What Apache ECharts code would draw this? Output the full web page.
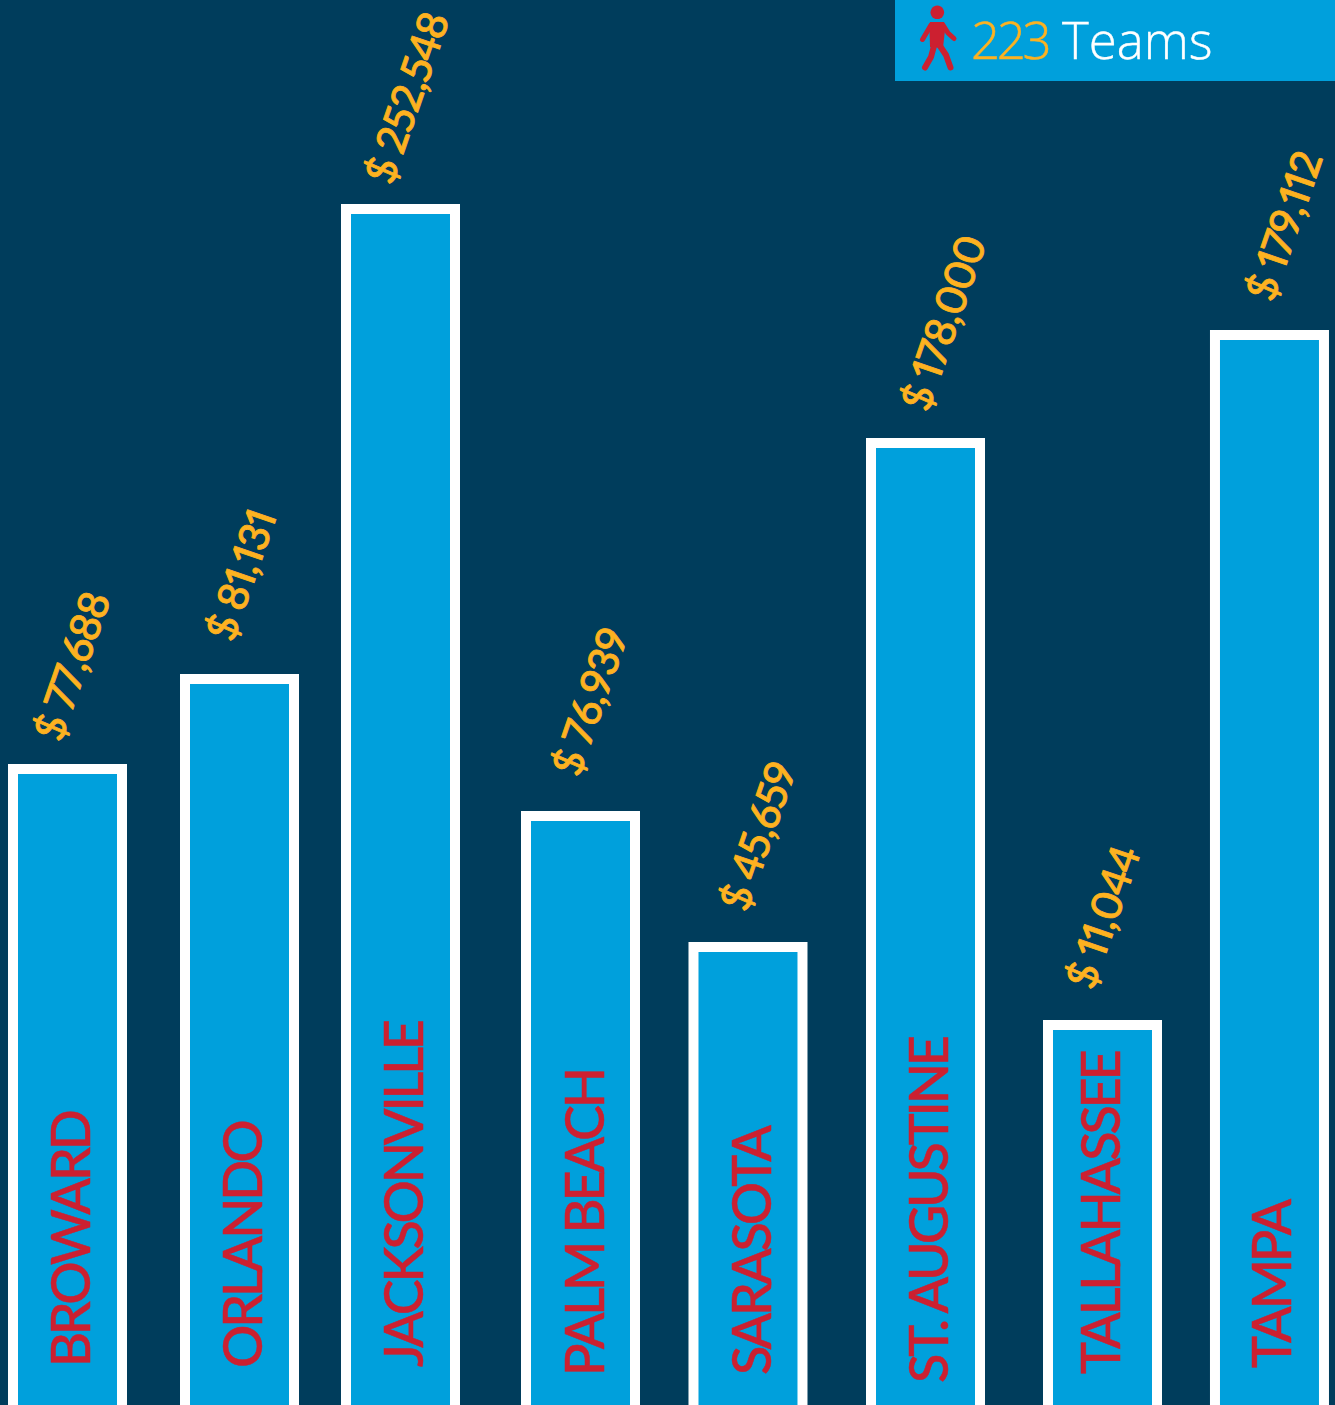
<!DOCTYPE html>
<html><head><meta charset="utf-8">
<style>html,body{margin:0;padding:0;background:#003d5c}#c{width:1335px;height:1405px}
#c text[style*="54px"]{letter-spacing:-3.2px;stroke:#cc2030;stroke-width:.5px}
#c text[style*="42px"]{letter-spacing:-1.2px;font-variant-numeric:proportional-nums;font-feature-settings:"pnum" 1;font-kerning:none;stroke:#fdb220;stroke-width:.8px}
#c text[fill="#fdb220"][style*="51px"]{letter-spacing:-3.3px;stroke:#fdb220;stroke-width:.5px}
#c text[fill="#fff"][style*="51px"]{stroke:#fff;stroke-width:.4px}
</style>
<script src="https://cdn.jsdelivr.net/npm/echarts@6/dist/echarts.min.js"></script>
</head><body><div id="c"></div>
<script>
const cities = ['BROWARD','ORLANDO','JACKSONVILLE','PALM BEACH','SARASOTA','ST. AUGUSTINE','TALLAHASSEE','TAMPA'];
const amounts = [77688,81131,252548,76939,45659,178000,11044,179112];
const barHeights = [661,751,1221,614,483,987,405,1095];
const slots = [0,1.0017,1.9393,2.9876,3.963,4.9968,6.0276,7];
const teamCount = 223;

const amountNudge = [[-21.5,-26],[-21.5,-36],[-23.5,-23],[-16.5,-38],[-16,-34],[-12.5,-30],[-24.5,-34],[-11.5,-32]];
const cityNudge = [[2,-58],[1.5,-57],[2.5,-58],[2.5,-49],[3,-50],[1.5,-42],[-3.5,-51],[1.5,-57]];
const AMOUNT_TILT = 71;

const NAVY='#003d5c',BLUE='#00a0dc',RED='#cc2030',GOLD='#fdb220';
const money = v => '$ ' + v.toLocaleString('en-US');
const toLocal = ([gx,gy],deg) => { const t=deg*Math.PI/180,c=Math.cos(t),s=Math.sin(t); return [gx*c-gy*s, gx*s+gy*c]; };

const chart = echarts.init(document.getElementById('c'),null,{renderer:'svg'});
const limb = (points,w) => ({type:'polyline',shape:{points},silent:true,
  style:{stroke:RED,lineWidth:w,lineCap:'round',lineJoin:'round',fill:null}});
chart.setOption({
  animation:false,
  backgroundColor:NAVY,
  grid:{left:0,right:0,top:0,bottom:0},
  xAxis:{type:'value',min:-0.3931,max:7.3816,show:false},
  yAxis:{type:'value',min:20,max:1425,show:false},
  series:[{
    type:'bar',barWidth:119,clip:false,silent:true,
    itemStyle:{color:BLUE,borderColor:'#fff',borderWidth:10},
    data:barHeights.map((h,i)=>({
      value:[slots[i],h],
      label:{show:true,position:'top',distance:0,rotate:AMOUNT_TILT,align:'left',verticalAlign:'middle',
        offset:toLocal(amountNudge[i],AMOUNT_TILT),formatter:money(amounts[i]),
        color:GOLD,fontFamily:'Lato',fontSize:42,fontWeight:500}
    }))
  },{
    type:'bar',barWidth:119,barGap:'-100%',clip:false,silent:true,
    itemStyle:{color:'transparent'},
    data:barHeights.map((h,i)=>({
      value:[slots[i],h],
      label:{show:true,position:'insideBottom',distance:0,rotate:90,align:'left',verticalAlign:'middle',
        offset:toLocal(cityNudge[i],90),formatter:cities[i],
        color:RED,fontFamily:'Lato',fontSize:54,fontWeight:500}
    }))
  }],
  graphic:[
    {type:'rect',shape:{x:895,y:0,width:440,height:81},style:{fill:BLUE},silent:true},
    {type:'circle',shape:{cx:937.3,cy:12.3,r:6.8},style:{fill:RED},silent:true},
    {type:'polygon',shape:{points:[[930,22],[944,22],[945,30],[943,48],[930,47],[929.5,30]]},style:{fill:RED},silent:true},
    limb([[931,25],[922.5,39.5]],5),
    limb([[943,25],[948,33],[954,38.5]],5),
    limb([[934,46],[931,57],[925,67.5]],6),
    limb([[940,46],[946,55],[950.5,67.5]],6),
    {type:'text',x:971,y:39,silent:true,style:{text:String(teamCount),verticalAlign:'middle',fill:GOLD,fontFamily:'Open Sans',fontWeight:300,fontSize:51}},
    {type:'text',x:1062,y:39,silent:true,style:{text:'Teams',verticalAlign:'middle',fill:'#fff',fontFamily:'Open Sans',fontWeight:300,fontSize:51}}
  ]
});
</script></body></html>
